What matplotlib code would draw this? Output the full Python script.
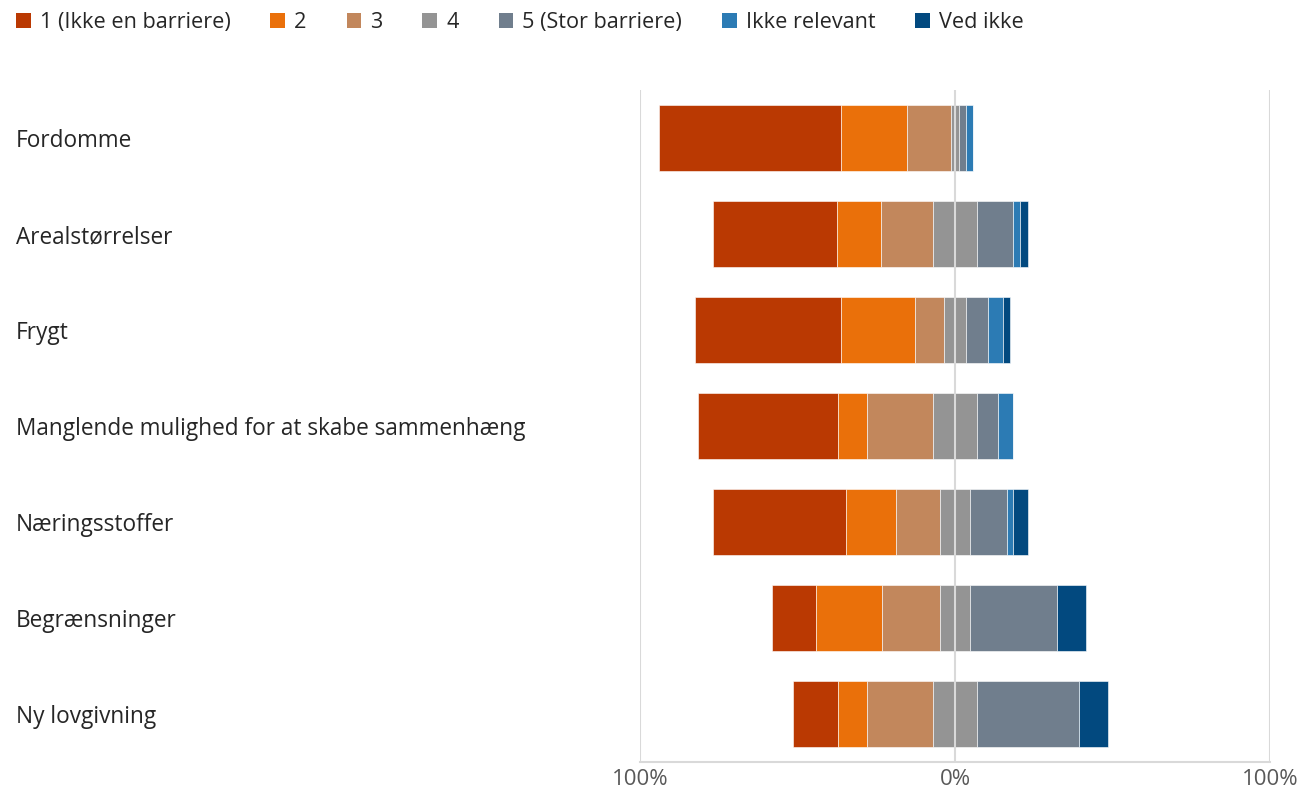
import numpy as np
import matplotlib.pyplot as plt
from matplotlib.patches import Patch

plt.rcParams['font.family'] = ['Open Sans', 'DejaVu Sans']

categories = ["Fordomme", "Arealstørrelser", "Frygt",
              "Manglende mulighed for at skabe sammenhæng",
              "Næringsstoffer", "Begrænsninger", "Ny lovgivning"]
series = ["1 (Ikke en barriere)", "2", "3", "4", "5 (Stor barriere)",
          "Ikke relevant", "Ved ikke"]
colors = ["#BA3902", "#EA700A", "#C2875C", "#949494", "#707E8D",
          "#2C7BB4", "#02497F"]

# andele i procent, en liste pr. svarkategori
s1 = [57.8, 39.5, 46.4, 44.2, 42.0, 13.8, 14.1]
s2 = [20.9, 13.9, 23.4, 9.3, 16.1, 21.0, 9.3]
s3 = [13.9, 16.5, 9.1, 20.9, 14.0, 18.5, 20.9]
s4 = [2.5, 13.9, 7.1, 14.2, 9.3, 9.3, 14.2]
s5 = [2.1, 11.5, 7.0, 6.6, 11.7, 27.8, 32.3]
s_ir = [2.4, 2.3, 4.6, 4.7, 2.2, 0.0, 0.0]
s_vi = [0.0, 2.3, 2.3, 0.0, 4.6, 9.2, 9.2]

data = np.array([s1, s2, s3, s4, s5, s_ir, s_vi])
# midterste serie (4) centreres omkring 0
start = -(data[0] + data[1] + data[2] + data[3] / 2)

fig = plt.figure(figsize=(13.02, 7.94), dpi=100)
ax = fig.add_axes([640 / 1302, 1 - 762 / 794, 630 / 1302, 672 / 794])

y = np.arange(len(categories))
left = start.copy()
for i in range(len(series)):
    ax.barh(y, data[i], left=left, height=0.68, color=colors[i],
            edgecolor='white', linewidth=0.4, zorder=2)
    left = left + data[i]

ax.set_xlim(-100, 100)
ax.set_ylim(6.5, -0.5)
ax.set_xticks([-100, 0, 100])
ax.set_xticklabels(["100%", "0%", "100%"])
for xv in [-100, 0, 100]:
    ax.axvline(xv, color='#D9D9D9', linewidth=1.5, zorder=3)

ax.set_yticks(y)
ax.set_yticklabels(categories)
for lab in ax.get_yticklabels():
    lab.set_horizontalalignment('left')
ax.tick_params(axis='y', length=0, pad=624 * 0.72, labelsize=16.3,
               labelcolor='#262626')
ax.tick_params(axis='x', length=0, pad=5, labelsize=16, labelcolor='#595959')

for sp in ['top', 'right', 'left']:
    ax.spines[sp].set_visible(False)
ax.spines['bottom'].set_color('#D9D9D9')
ax.spines['bottom'].set_linewidth(1.5)

handles = [Patch(facecolor=c, edgecolor='none') for c in colors]
fig.legend(handles, series, loc='upper left',
           bbox_to_anchor=(16 / 1302, 1 - 12 / 794),
           ncol=7, frameon=False, fontsize=15.6, borderpad=0,
           borderaxespad=0, handlelength=0.68, handleheight=0.65,
           handletextpad=0.41, columnspacing=1.85,
           labelcolor='#262626')

plt.savefig("out.png", dpi=100)
